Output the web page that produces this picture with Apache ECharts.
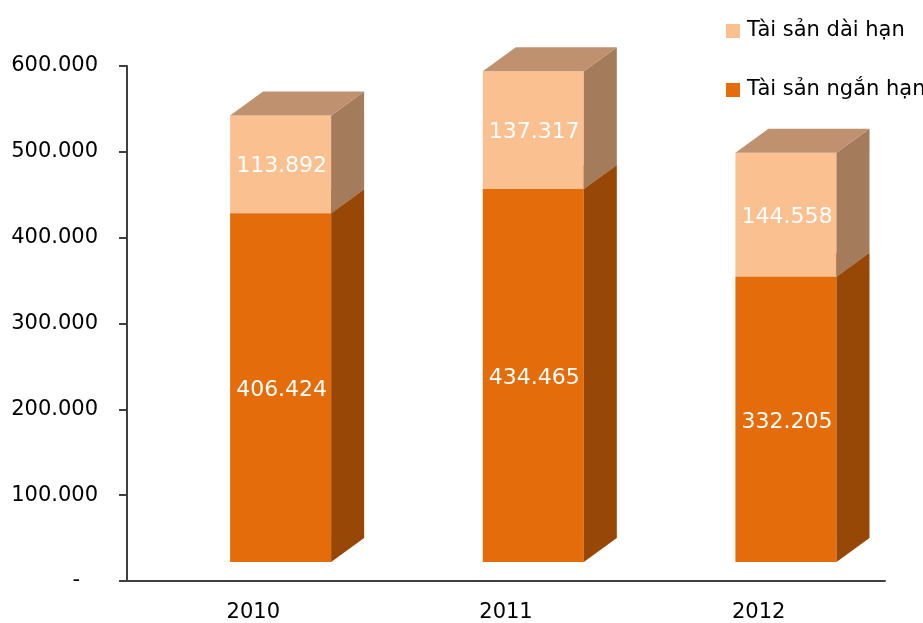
<!DOCTYPE html>
<html>
<head>
<meta charset="utf-8">
<script src="https://cdn.jsdelivr.net/npm/echarts@6/dist/echarts.min.js"></script>
<style>
html, body { margin: 0; padding: 0; background: #fff; }
#main { width: 923px; height: 623px; }
</style>
</head>
<body>
<div id="main"></div>
<script>
var years = ['2010', '2011', '2012'];
var nganHan = [406424, 434465, 332205];
var daiHan = [113892, 137317, 144558];
var yTicks = [0, 100000, 200000, 300000, 400000, 500000, 600000];

function fmt (v) {
  return String(Math.round(v)).replace(/\B(?=(\d{3})+(?!\d))/g, '.')
}

// [category, start, end, value]
var lowData = years.map(function (y, i) { return [i, 0, nganHan[i], nganHan[i]] })
var highData = years.map(function (y, i) {
  return [i, nganHan[i], nganHan[i] + daiHan[i], daiHan[i]]
})

var DX = 33, DY = -24, LIFT = -19

function makeRender (front, side, top) {
  return function (params, api) {
    var cat = api.value(0)
    var b = api.coord([cat, api.value(1)])
    var t = api.coord([cat, api.value(2)])
    var band = api.size([1, 0])[0]
    var x0 = b[0] - band * 0.092
    var x1 = x0 + band * 0.4
    var yb = b[1] + LIFT
    var yt = t[1] + LIFT
    return {
      type: 'group',
      children: [
        { type: 'rect', shape: { x: x0, y: yt, width: x1 - x0, height: yb - yt }, style: { fill: front } },
        { type: 'polygon', shape: { points: [[x1, yt], [x1 + DX, yt + DY], [x1 + DX, yb + DY], [x1, yb]] }, style: { fill: side } },
        { type: 'polygon', shape: { points: [[x0, yt], [x0 + DX, yt + DY], [x1 + DX, yt + DY], [x1, yt]] }, style: { fill: top } },
        {
          type: 'text',
          style: {
            text: fmt(api.value(3)), x: (x0 + x1) / 2 + 1, y: (yt + yb) / 2 + 2.5,
            align: 'center', verticalAlign: 'middle',
            fill: '#fff', font: '22px "DejaVu Sans"'
          }
        }
      ]
    }
  }
}

var chart = echarts.init(document.getElementById('main'))
chart.setOption({
  animation: false,
  textStyle: { fontFamily: 'DejaVu Sans' },
  grid: { left: 127, right: 38, top: 66, bottom: 41 },
  legend: {
    orient: 'vertical',
    left: 721,
    top: 15,
    itemWidth: 14,
    itemHeight: 14,
    itemGap: 37,
    icon: 'rect',
    data: ['Tài sản dài hạn', 'Tài sản ngắn hạn'],
    textStyle: { fontSize: 21, color: '#000', lineHeight: 22, padding: [0, 0, 0, 2] }
  },
  xAxis: {
    type: 'category',
    data: years,
    axisLine: { lineStyle: { color: '#404040', width: 2 } },
    axisTick: { length: 8, lineStyle: { color: '#404040', width: 2 } },
    axisLabel: { fontSize: 21, color: '#000', margin: 21 }
  },
  yAxis: {
    type: 'value',
    min: 0,
    max: 600000,
    interval: 100000,
    splitLine: { show: false },
    axisLine: { show: true, lineStyle: { color: '#404040', width: 2 } },
    axisTick: { show: true, length: 8, lineStyle: { color: '#404040', width: 2 } },
    axisLabel: {
      fontSize: 21,
      color: '#000',
      margin: 29,
      formatter: function (v) { return v === yTicks[0] ? '{d|-}' : fmt(v) },
      rich: { d: { fontSize: 21, color: '#000', padding: [0, 18, 0, 0] } }
    }
  },
  series: [
    {
      name: 'Tài sản ngắn hạn',
      type: 'custom',
      itemStyle: { color: '#E46C0A' },
      encode: { x: 0, y: 2 },
      renderItem: makeRender('#E46C0A', '#974706', '#B85A0C'),
      data: lowData
    },
    {
      name: 'Tài sản dài hạn',
      type: 'custom',
      itemStyle: { color: '#FAC090' },
      encode: { x: 0, y: 2 },
      renderItem: makeRender('#FAC090', '#A47C5C', '#C0916E'),
      data: highData
    }
  ]
})
</script>
</body>
</html>
